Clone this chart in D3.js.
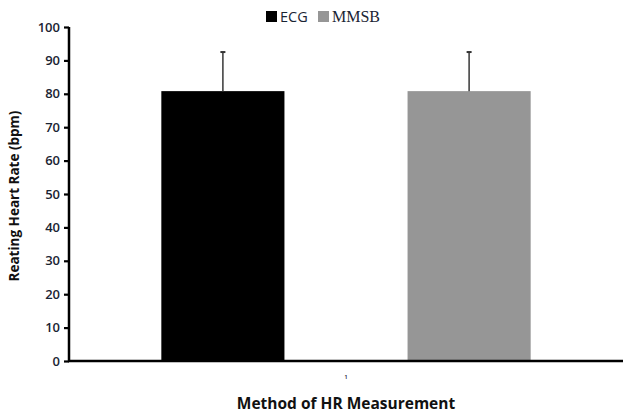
<!DOCTYPE html>
<html>
<head>
<meta charset="utf-8">
<script src="https://cdn.jsdelivr.net/npm/d3@7"></script>
<style>
  html, body { margin: 0; padding: 0; background: #fff; }
  svg { display: block; }
</style>
</head>
<body>
<div id="chart"></div>
<script>
// 静息心率：ECG vs MMSB，均值 + 标准差上误差线
const groups = ["1"];
const series = ["ECG", "MMSB"];
const means = [80.8, 80.8];
const errors = [11.7, 11.7];
const colors = ["#000000", "#969696"];
const yTicks = [0, 10, 20, 30, 40, 50, 60, 70, 80, 90, 100];

const W = 623, H = 415;
const ML = 69, MR = 0, TOP = 27, BOT = 54;

const svg = d3.select("#chart").append("svg")
  .attr("width", W).attr("height", H);

const y = d3.scaleLinear().domain([0, 100]).range([H - BOT, TOP]);
const x0 = d3.scaleBand().domain(groups).range([ML, W - MR]);
const x1 = d3.scaleBand().domain(series).range([0, x0.bandwidth()])
  .paddingInner(0.5).paddingOuter(0.375);

// 柱
series.forEach((s, i) => {
  const bx = x0(groups[0]) + x1(s);
  svg.append("rect")
    .attr("x", bx).attr("width", x1.bandwidth())
    .attr("y", y(means[i])).attr("height", y(0) - y(means[i]))
    .attr("fill", colors[i]);
  // 误差线（只画上半）
  const cx = bx + x1.bandwidth() / 2;
  svg.append("line")
    .attr("x1", cx).attr("x2", cx)
    .attr("y1", y(means[i])).attr("y2", y(means[i] + errors[i]))
    .attr("stroke", "#444").attr("stroke-width", 1.6);
  svg.append("line")
    .attr("x1", cx - 2.5).attr("x2", cx + 2.5)
    .attr("y1", y(means[i] + errors[i])).attr("y2", y(means[i] + errors[i]))
    .attr("stroke", "#333").attr("stroke-width", 2);
});

// 纵轴
const yAxis = svg.append("g").attr("transform", `translate(${ML},0)`)
  .call(d3.axisLeft(y).tickValues(yTicks).tickSize(5).tickPadding(4));
yAxis.select(".domain").attr("stroke", "#000").attr("stroke-width", 2.5)
  .attr("d", `M0,${y(100)}V${y(0) + 1}`);
yAxis.selectAll(".tick line").attr("stroke", "#000").attr("stroke-width", 2.2);
yAxis.selectAll(".tick text")
  .attr("style", "font:600 13px 'Open Sans', sans-serif;fill:#1a2433");

// 横轴
const xAxis = svg.append("g").attr("transform", `translate(0,${y(0)})`)
  .call(d3.axisBottom(x0).tickSize(0).tickPadding(14));
xAxis.select(".domain").attr("stroke", "#000").attr("stroke-width", 2.5)
  .attr("d", `M${ML - 1},0H${W}`);
xAxis.selectAll(".tick text")
  .attr("style", "font:600 6px 'Open Sans', sans-serif;fill:#1a2433");

// 轴标题
svg.append("text")
  .attr("x", (ML + W) / 2 + 0).attr("y", 409).attr("text-anchor", "middle")
  .attr("style", "font:bold 15.5px 'Open Sans', sans-serif;fill:#111")
  .text("Method of HR Measurement");
svg.append("text")
  .attr("transform", `translate(19,${(y(0) + y(100)) / 2 + 2}) rotate(-90)`)
  .attr("text-anchor", "middle")
  .attr("style", "font:bold 13.5px 'Open Sans', sans-serif;fill:#111")
  .text("Reating Heart Rate (bpm)");

// 图例
const legend = [
  { name: series[0], color: colors[0], x: 266, font: "14.5px 'Open Sans', sans-serif" },
  { name: series[1], color: colors[1], x: 318, font: "16px 'Liberation Serif', serif" },
];
legend.forEach(l => {
  svg.append("rect").attr("x", l.x).attr("y", 11).attr("width", 11).attr("height", 11)
    .attr("fill", l.color);
  svg.append("text").attr("x", l.x + 14).attr("y", 22)
    .attr("style", `font:${l.font};fill:#1a2433`).text(l.name);
});
</script>
</body>
</html>
